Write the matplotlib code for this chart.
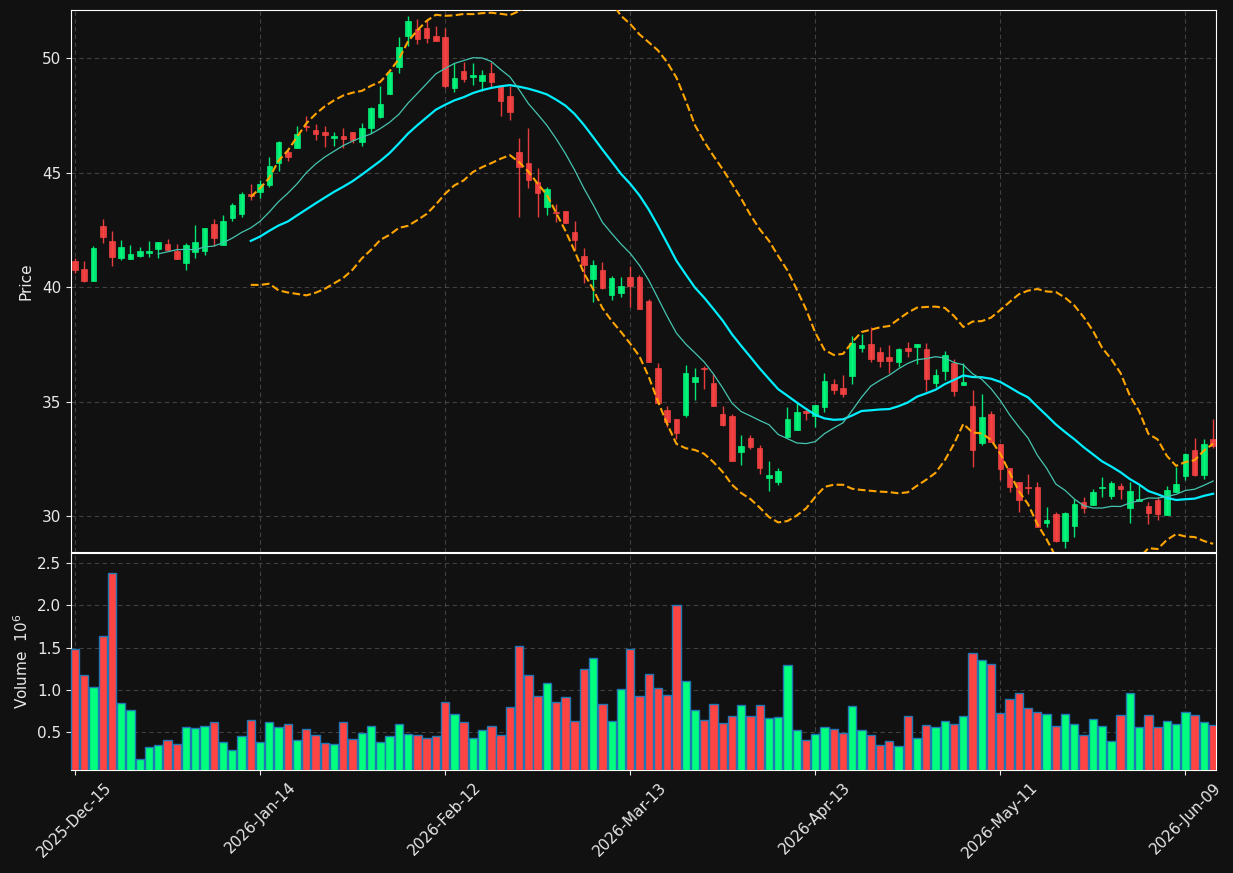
import numpy as np
import pandas as pd
import matplotlib
matplotlib.use("Agg")
import matplotlib.pyplot as plt
from matplotlib.patches import Rectangle

opens = [41.14, 40.79, 40.26, 42.66, 42.01, 41.27, 41.22, 41.35, 41.48, 41.66,
         41.88, 41.57, 41.05, 41.53, 41.57, 42.75, 41.83, 43.01, 43.19, 44.06,
         44.15, 44.45, 45.40, 45.90, 46.08, 47.04, 46.86, 46.77, 46.52, 46.59,
         46.77, 46.33, 46.96, 47.41, 48.44, 49.62, 50.96, 51.27, 51.31, 50.96,
         50.92, 48.70, 49.43, 49.19, 49.00, 49.34, 48.78, 48.34, 45.90, 45.41,
         44.59, 43.51, 43.29, 43.32, 42.40, 41.35, 40.36, 40.74, 39.66, 39.75,
         40.44, 40.45, 39.39, 36.46, 34.63, 34.24, 34.40, 35.87, 36.46, 35.81,
         34.45, 34.37, 32.81, 33.41, 32.97, 31.67, 31.48, 33.44, 33.76, 34.59,
         34.38, 34.77, 35.76, 35.59, 36.13, 37.34, 37.51, 37.16, 36.94, 36.72,
         37.34, 37.38, 37.29, 35.81, 36.33, 36.68, 35.72, 34.80, 33.17, 34.45,
         33.14, 32.10, 31.48, 31.28, 31.25, 29.71, 30.07, 28.92, 29.58, 30.60,
         30.49, 31.24, 30.89, 31.31, 30.36, 30.65, 30.44, 30.72, 30.04, 31.05,
         31.75, 32.88, 31.81, 33.36]
highs = [41.25, 41.13, 41.79, 42.96, 42.45, 42.04, 41.83, 41.73, 42.00, 41.97,
         42.10, 41.88, 41.92, 42.71, 42.58, 42.97, 43.14, 43.67, 44.15, 44.50,
         44.67, 45.68, 46.38, 45.98, 47.03, 47.47, 47.13, 47.03, 46.77, 46.94,
         46.77, 47.16, 47.87, 48.76, 49.39, 50.92, 51.83, 51.70, 51.70, 51.40,
         51.31, 49.77, 49.81, 49.77, 49.48, 49.84, 48.78, 48.78, 46.49, 46.93,
         45.20, 44.37, 43.61, 43.32, 42.88, 41.69, 41.18, 41.09, 40.48, 40.42,
         40.92, 40.52, 39.46, 36.67, 34.80, 34.24, 36.58, 36.45, 36.56, 36.20,
         34.80, 34.45, 33.54, 33.54, 33.10, 32.39, 32.08, 34.76, 34.93, 34.70,
         34.85, 36.24, 35.97, 36.14, 37.85, 37.93, 38.24, 37.37, 37.47, 37.34,
         37.60, 37.51, 37.55, 36.42, 37.21, 36.86, 36.68, 35.50, 35.33, 34.57,
         33.14, 32.10, 31.48, 31.83, 31.47, 30.41, 30.16, 30.19, 30.75, 30.84,
         31.19, 31.72, 31.53, 31.45, 31.50, 31.35, 30.61, 30.84, 31.32, 32.15,
         32.76, 33.42, 33.35, 34.22]
lows = [40.60, 40.22, 40.26, 41.93, 40.93, 41.18, 41.22, 41.30, 41.30, 41.25,
        41.62, 41.22, 40.74, 41.28, 41.40, 41.79, 41.83, 42.88, 43.06, 43.80,
        43.89, 44.35, 45.07, 45.49, 46.08, 46.83, 46.43, 46.10, 46.17, 46.07,
        46.28, 46.16, 46.74, 47.37, 48.44, 49.33, 50.52, 50.61, 50.66, 50.74,
        48.69, 48.53, 48.94, 48.84, 48.56, 48.75, 47.47, 47.29, 43.07, 44.34,
        43.07, 43.16, 42.83, 42.81, 41.62, 40.19, 39.36, 39.93, 39.42, 39.58,
        39.14, 39.04, 36.74, 34.92, 33.90, 33.35, 34.34, 35.08, 35.53, 34.80,
        33.93, 32.41, 32.21, 32.91, 31.83, 31.08, 31.37, 33.44, 33.76, 34.19,
        33.90, 34.55, 35.31, 35.18, 35.75, 37.17, 36.74, 36.52, 36.26, 36.51,
        36.96, 36.64, 35.46, 35.63, 35.94, 35.24, 35.72, 32.15, 33.11, 33.23,
        31.57, 31.04, 30.17, 30.96, 29.53, 29.53, 28.88, 28.59, 29.07, 30.12,
        30.49, 30.84, 30.73, 30.74, 29.71, 30.65, 29.65, 29.84, 30.04, 31.05,
        31.57, 31.75, 31.60, 32.96]
closes = [40.74, 40.26, 41.70, 42.18, 41.32, 41.75, 41.44, 41.57, 41.57, 41.97,
          41.62, 41.22, 41.83, 41.97, 42.58, 42.14, 42.88, 43.58, 44.06, 43.97,
          44.50, 45.28, 46.33, 45.66, 46.68, 47.00, 46.68, 46.64, 46.59, 46.46,
          46.43, 46.94, 47.83, 47.99, 49.39, 50.48, 51.62, 50.83, 50.87, 50.74,
          48.78, 49.13, 49.08, 49.25, 49.26, 48.95, 48.12, 47.64, 45.25, 44.67,
          44.12, 44.28, 43.22, 42.81, 42.05, 40.96, 40.96, 39.97, 40.41, 40.04,
          40.06, 39.04, 36.74, 34.92, 34.12, 33.61, 36.24, 36.07, 36.42, 34.80,
          33.97, 32.41, 33.06, 33.03, 32.11, 31.79, 31.97, 34.24, 34.54, 34.51,
          34.85, 35.90, 35.50, 35.33, 37.55, 37.47, 36.86, 36.78, 36.78, 37.29,
          37.21, 37.51, 35.98, 36.16, 37.03, 35.46, 35.85, 32.88, 34.32, 33.23,
          32.07, 31.28, 30.70, 31.24, 29.53, 29.81, 28.92, 30.12, 30.52, 30.36,
          31.03, 31.27, 31.44, 31.18, 31.09, 30.74, 30.13, 30.07, 31.14, 31.40,
          32.71, 31.81, 33.14, 33.06]
volumes = [1.48, 1.175, 1.03, 1.636, 2.38, 0.84, 0.76, 0.18, 0.32, 0.346,
           0.405, 0.358, 0.559, 0.547, 0.571, 0.618, 0.382, 0.287, 0.453, 0.642,
           0.382, 0.618, 0.559, 0.595, 0.405, 0.535, 0.464, 0.37, 0.358, 0.618,
           0.417, 0.488, 0.571, 0.382, 0.453, 0.595, 0.476, 0.464, 0.429, 0.453,
           0.855, 0.713, 0.618, 0.429, 0.524, 0.571, 0.464, 0.796, 1.518, 1.175,
           0.926, 1.08, 0.855, 0.914, 0.63, 1.246, 1.376, 0.831, 0.63, 1.009,
           1.482, 0.926, 1.186, 1.021, 0.938, 2.003, 1.104, 0.76, 0.642, 0.831,
           0.607, 0.689, 0.82, 0.689, 0.82, 0.666, 0.678, 1.293, 0.524, 0.405,
           0.476, 0.559, 0.535, 0.488, 0.808, 0.524, 0.464, 0.346, 0.393, 0.334,
           0.689, 0.429, 0.583, 0.559, 0.63, 0.595, 0.689, 1.435, 1.352, 1.305,
           0.725, 0.89, 0.962, 0.784, 0.737, 0.713, 0.571, 0.713, 0.595, 0.464,
           0.654, 0.571, 0.393, 0.701, 0.962, 0.559, 0.701, 0.559, 0.63, 0.595,
           0.737, 0.701, 0.618, 0.583]
tick_labels = ["2025-Dec-15", "2026-Jan-14", "2026-Feb-12", "2026-Mar-13",
               "2026-Apr-13", "2026-May-11", "2026-Jun-09"]
tick_index = [0, 20, 40, 60, 80, 100, 120]

BG = "#111111"
UP = "#00ff7f"
DOWN = "#ff4444"
TXT = "#e8e8e8"

fig = plt.figure(figsize=(12.33, 8.73), dpi=100, facecolor=BG)
W, H = 1233, 873
ax = fig.add_axes([71 / W, (H - 552) / H, (1216 - 71) / W, 542 / H])
axv = fig.add_axes([71 / W, (H - 770) / H, (1216 - 71) / W, 217 / H], sharex=ax)

o = np.array(opens); h = np.array(highs); l = np.array(lows); c = np.array(closes)
v = np.array(volumes)
x = np.arange(len(c))
up = c >= o
cols = np.where(up, UP, DOWN)

# candles
for i in x:
    ax.vlines(i, l[i], h[i], color=cols[i], linewidth=1.0, alpha=0.9, zorder=3)
    lo_b = min(o[i], c[i]); hb = abs(c[i] - o[i])
    if hb < 0.03:
        hb = 0.03
    ax.add_patch(Rectangle((i - 0.3, lo_b), 0.6, hb, facecolor=cols[i],
                           edgecolor=cols[i], linewidth=0.5, alpha=0.9, zorder=4))

s = pd.Series(c)
ma20 = s.rolling(20).mean()
ma10 = s.rolling(10).mean()
sd = s.rolling(20).std(ddof=0)
ax.plot(x, ma20, color="#00eeff", linewidth=1.6, zorder=5)
ax.plot(x, ma10, color="#45c4b0", linewidth=0.9, zorder=5)
ax.plot(x, ma20 + 2 * sd, color="#ffa500", linewidth=1.5, linestyle="--", zorder=5)
ax.plot(x, ma20 - 2 * sd, color="#ffa500", linewidth=1.5, linestyle="--", zorder=5)

axv.bar(x, v, width=0.9, color=cols, edgecolor="#1f77b4", linewidth=1.0, zorder=3)

ax.set_xlim(-0.43, 123.31)
ax.set_ylim(28.43, 52.10)
axv.set_ylim(0.3 * v.min(), 1.1 * v.max())

for a in (ax, axv):
    a.set_facecolor(BG)
    for sp in a.spines.values():
        sp.set_color("white")
    a.grid(True, color="#555555", linestyle=(0, (4, 3)), linewidth=0.8, alpha=0.7)
    a.tick_params(colors=TXT, labelsize=11, direction="out")
    a.set_axisbelow(True)

ax.set_yticks([30, 35, 40, 45, 50])
axv.set_yticks([0.5, 1.0, 1.5, 2.0, 2.5])
axv.set_xticks(tick_index)
axv.set_xticklabels(tick_labels, rotation=45, ha="center")
plt.setp(ax.get_xticklabels(), visible=False)
ax.tick_params(axis="x", length=0)

ax.set_ylabel("Price", color=TXT, fontsize=11)
axv.set_ylabel("Volume  $10^{6}$", color=TXT, fontsize=11)
ax.yaxis.set_label_coords(-0.033, 0.5)
axv.yaxis.set_label_coords(-0.035, 0.5)

fig.savefig("out.png", dpi=100, facecolor=BG)
